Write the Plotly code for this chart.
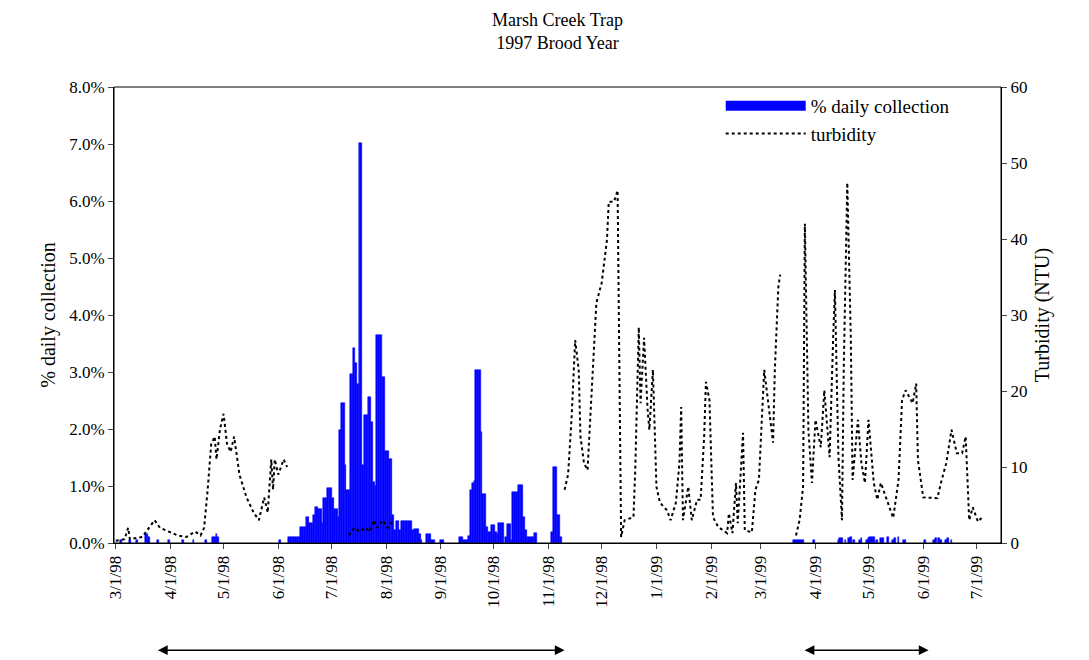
import pandas as pd
import plotly.graph_objects as go

START = pd.Timestamp("1998-03-01")

# daily collection: day offset from 3/1/98 and percent of total
bar_days = [3, 8, 12, 17, 18, 19, 24, 30, 38, 44, 51, 55, 56, 57, 58, 93,
            98, 99, 100, 101, 102, 103, 104, 105, 106, 107, 108, 109, 110, 111, 112, 113, 114,
            115, 116, 117, 118, 119, 120, 121, 122, 123, 124, 125, 126, 127, 128, 129, 130,
            131, 132, 133, 134, 135, 136, 137, 138, 139, 140, 141, 142, 143, 144, 145, 146,
            147, 148, 149, 150, 151, 152, 153, 154, 155, 156, 157, 158, 159, 160, 161,
            162, 163, 164, 165, 166, 167, 168, 169, 170, 171, 172, 173, 176, 177, 178, 179,
            180, 184, 185, 195, 196, 197, 198, 199, 200, 201, 202, 203, 204, 205, 206, 207,
            208, 209, 210, 211, 212, 213, 214, 215, 216, 217, 218, 219, 221, 222, 223, 224,
            225, 226, 227, 228, 229, 230, 231, 232, 233, 234, 235, 236, 237, 238,
            247, 248, 249, 250, 251, 252,
            384, 385, 386, 387, 388, 389, 395, 409, 410, 411, 413, 415, 416, 418, 421, 422,
            425, 426, 427, 428, 429, 431, 433, 434, 437, 440, 441, 443, 446, 447, 458,
            463, 464, 466, 467, 470, 471, 473]
bar_pct = [0.05, 0.05, 0.05, 0.15, 0.15, 0.1, 0.05, 0.05, 0.05, 0.05, 0.05, 0.1, 0.1, 0.15, 0.1, 0.05,
           0.1, 0.1, 0.1, 0.1, 0.1, 0.1, 0.1, 0.28, 0.28, 0.28, 0.45, 0.45, 0.35, 0.35, 0.49, 0.63, 0.63,
           0.6, 0.6, 0.35, 0.79, 0.79, 0.96, 0.96, 0.96, 0.79, 0.6, 0.6, 0.45, 1.98, 2.46, 2.46, 1.37,
           0.93, 0.93, 2.96, 2.96, 3.42, 3.16, 2.79, 7.02, 7.02, 1.37, 2.25, 2.25, 2.56, 2.56, 2.12, 1.07,
           1.0, 3.65, 3.65, 3.65, 2.91, 2.91, 1.61, 1.61, 1.47, 1.47, 0.49, 0.23, 0.39, 0.39, 0.23,
           0.39, 0.39, 0.39, 0.39, 0.39, 0.39, 0.23, 0.25, 0.25, 0.25, 0.16, 0.05, 0.16, 0.16, 0.16, 0.05,
           0.05, 0.05, 0.05, 0.1, 0.1, 0.05, 0.05, 0.05, 0.13, 0.93, 1.05, 1.08, 3.03, 3.03, 3.03, 1.95,
           0.86, 0.86, 0.28, 0.2, 0.2, 0.32, 0.32, 0.2, 0.16, 0.35, 0.35, 0.35, 0.1, 0.33, 0.33, 0.05,
           0.9, 0.9, 0.9, 1.02, 1.02, 1.02, 0.45, 0.23, 0.1, 0.1, 0.1, 0.1, 0.18, 0.18,
           0.2, 1.33, 1.33, 0.49, 0.49, 0.1,
           0.05, 0.05, 0.05, 0.05, 0.05, 0.05, 0.05, 0.05, 0.08, 0.08, 0.05, 0.08, 0.1, 0.05, 0.05, 0.08,
           0.05, 0.08, 0.1, 0.1, 0.1, 0.05, 0.08, 0.08, 0.1, 0.05, 0.08, 0.1, 0.05, 0.05, 0.05,
           0.05, 0.08, 0.08, 0.05, 0.05, 0.08, 0.05]

# turbidity (NTU); None marks gaps in the record
turb_days = [0, 5, 7, 8, 15, 22, 25, 30, 35, 40, 45, 48, 50, 52, 54, 56, 57, 59, 61, 63, 65, 67, 70, 74,
             78, 81, 84, 86, 88, 89, 90, 92, 95, 97, None,
             132, 135, 138, 141, 144, 146, 148, 151, 154, 157, None,
             254, 256, 258, 260, 262, 263, 265, 267, 269, 271, 272, 275, 278, 279, 282, 284, 285, 286,
             288, 293, 294, 296, 297, 299, 301, 302, 304, 306, 308, 312, 314, 317, 319, 320, 321, 324,
             326, 329, 331, 333, 334, 336, 338, 341, 346, 347, 349, 351, 352, 355, 356, 360, 362, 364,
             367, 369, 372, 373, 375, 376, None,
             385, 387, 389, 390, 392, 394, 396, 399, 401, 404, 406, 407, 409, 411, 412, 414, 416, 417,
             420, 422, 424, 426, 429, 431, 433, 435, 438, 440, 443, 445, 447, 451, 453, 454, 457, 462,
             465, 467, 470, 473, 476, 479, 481, 483, 485, 488, 490]
turb_ntu = [0.3, 0.5, 2, 0.5, 0.8, 3, 2, 1.5, 1, 0.8, 1.5, 1, 2, 7, 13, 14, 11, 15, 17, 13, 12, 14, 9, 6,
            4, 3, 6, 4, 11, 7, 11, 9, 11, 10, None,
            1, 2, 1.5, 2, 1.5, 3, 2, 3, 2, 3, None,
            7, 9, 16.6, 26.7, 22.8, 14, 10.5, 9.6, 18.4, 27.6, 31.6, 34.2, 39.9, 44.9, 44.9, 46.4, 24.5, 0.8,
            3, 3.4, 9.6, 28.4, 18.4, 27, 17.5, 14.9, 22.8, 7.4, 5.3, 4.3, 3, 5.3, 10.5, 17.9, 3, 7.4,
            3, 5.7, 5.7, 14, 21.2, 18.8, 3.4, 2.1, 1.3, 3.9, 1.3, 7.9, 2.6, 14.5, 1.7, 1.4, 7, 8.3,
            22.8, 19.2, 13.2, 22.8, 33.7, 35.3, None,
            1, 3, 7.4, 42, 14.9, 7.9, 16.2, 12.6, 20.1, 11.3, 27, 33.3, 11.3, 3, 22.8, 47.4, 27, 8.3,
            16.2, 10.5, 7.9, 16.2, 7.9, 5.7, 7.9, 6.6, 4.7, 3.3, 8.3, 18.8, 20.1, 18.4, 21, 10.9, 6, 5.9,
            5.9, 7.9, 10.5, 14.9, 11.8, 11.8, 14, 3, 4.7, 2.8, 3.3]

tick_dates = pd.date_range("1998-03-01", "1999-07-01", freq="MS")
tick_text = [f"{d.month}/{d.day}/{d.strftime('%y')}" for d in tick_dates]

bar_x = [START + pd.Timedelta(days=d) for d in bar_days]
turb_x = [None if d is None else START + pd.Timedelta(days=d) for d in turb_days]

fig = go.Figure()
fig.add_trace(go.Bar(x=bar_x, y=[v / 100 for v in bar_pct], name="% daily collection",
                     marker=dict(color="#0000FF", line=dict(color="#0000FF", width=0.5)),
                     width=86400000, showlegend=False))
# legend stand-in so the swatch is a wide blue band like the original
fig.add_trace(go.Scatter(x=[None], y=[None], name="% daily collection", mode="lines",
                         line=dict(color="#0000FF", width=14)))
fig.add_trace(go.Scatter(x=turb_x, y=turb_ntu, name="turbidity", yaxis="y2", mode="lines",
                         line=dict(color="black", dash="dot", width=2), connectgaps=False))

# seasonal arrows below the date axis
for a, b in [("1998-03-24", "1998-11-10"), ("1999-03-25", "1999-06-04")]:
    fig.add_annotation(x=b, ax=a, xref="x", axref="x", y=-0.235, ay=0, yref="paper", ayref="pixel",
                       showarrow=True, arrowhead=2, startarrowhead=2, arrowside="end+start",
                       arrowwidth=1.5, arrowsize=1.3, arrowcolor="black", text="")

# two-line title
fig.add_annotation(text="Marsh Creek Trap<br>1997 Brood Year", xref="paper", yref="paper",
                   x=0.5, y=1.07, xanchor="center", yanchor="bottom", showarrow=False,
                   font=dict(size=18, color="black"))

fig.update_layout(
    font=dict(family="Liberation Serif, Times New Roman, serif", size=17, color="black"),
    width=1089, height=660, plot_bgcolor="white", paper_bgcolor="white",
    margin=dict(l=106, r=96, t=79, b=125),
    bargap=0, showlegend=True,
    legend=dict(x=0.684, y=1.0, xanchor="left", yanchor="top", bgcolor="rgba(0,0,0,0)",
                font=dict(size=19), itemwidth=80, tracegroupgap=0),
    xaxis=dict(range=[START - pd.Timedelta(days=1), pd.Timestamp("1999-07-15")],
               tickvals=tick_dates, ticktext=tick_text, tickangle=-90, ticks="outside",
               showline=True, linecolor="black", showgrid=False, mirror=False, ticklen=5),
    yaxis=dict(title=dict(text="% daily collection", standoff=8), range=[0, 0.08], dtick=0.01,
               tickformat=".1%", ticks="outside", showline=True, linecolor="black",
               showgrid=False, zeroline=False, mirror=False),
    yaxis2=dict(title=dict(text="Turbidity (NTU)", standoff=8), range=[0, 60], dtick=10,
                overlaying="y", side="right", ticks="outside", showline=True,
                linecolor="black", showgrid=False, zeroline=False),
)
fig.add_shape(type="rect", xref="paper", yref="paper", x0=0, y0=0, x1=1, y1=1,
              line=dict(color="black", width=1))

fig.write_html("out.html")
